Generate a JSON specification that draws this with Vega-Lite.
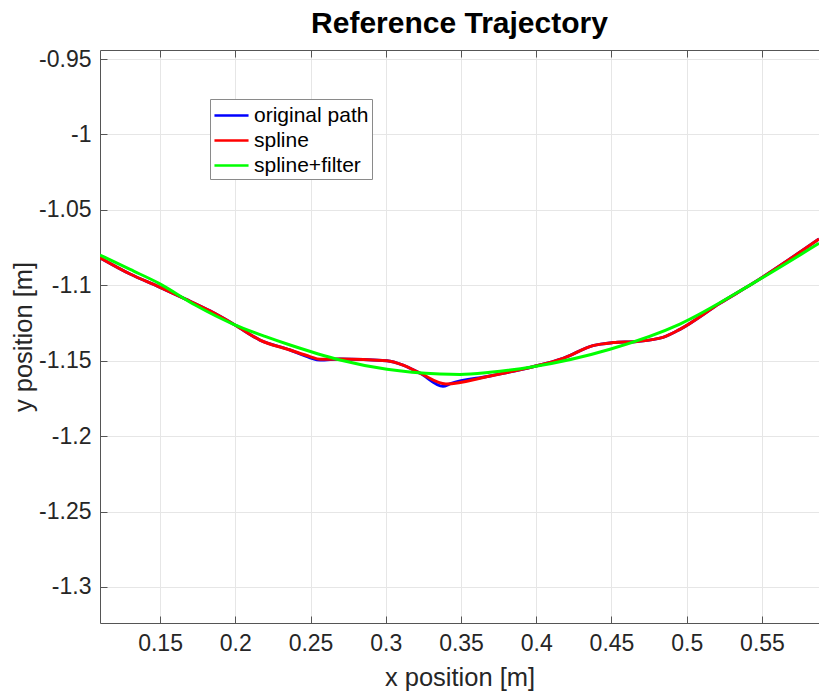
{
  "$schema": "https://vega.github.io/schema/vega-lite/v6.json",
  "autosize": "none",
  "width": 719,
  "height": 573,
  "padding": {"left": 100, "top": 50, "right": 0, "bottom": 70},
  "background": "white",
  "title": {"text": "Reference Trajectory", "fontSize": 30, "fontWeight": "bold", "font": "Liberation Sans", "color": "#000000", "anchor": "middle", "offset": 9},
  "datasets": {
    "paths": [
      {"series": "original path", "x": 0.1101, "y": -1.0817},
      {"series": "original path", "x": 0.1301, "y": -1.0925},
      {"series": "original path", "x": 0.1493, "y": -1.1010},
      {"series": "original path", "x": 0.1666, "y": -1.1090},
      {"series": "original path", "x": 0.1832, "y": -1.1170},
      {"series": "original path", "x": 0.1998, "y": -1.1263},
      {"series": "original path", "x": 0.2164, "y": -1.1363},
      {"series": "original path", "x": 0.2364, "y": -1.1429},
      {"series": "original path", "x": 0.2497, "y": -1.1480},
      {"series": "original path", "x": 0.2563, "y": -1.1496},
      {"series": "original path", "x": 0.2696, "y": -1.1489},
      {"series": "original path", "x": 0.3008, "y": -1.1500},
      {"series": "original path", "x": 0.3115, "y": -1.1529},
      {"series": "original path", "x": 0.3228, "y": -1.1583},
      {"series": "original path", "x": 0.3380, "y": -1.1670},
      {"series": "original path", "x": 0.3430, "y": -1.1652},
      {"series": "original path", "x": 0.3693, "y": -1.1601},
      {"series": "original path", "x": 0.3978, "y": -1.1540},
      {"series": "original path", "x": 0.4178, "y": -1.1484},
      {"series": "original path", "x": 0.4377, "y": -1.1400},
      {"series": "original path", "x": 0.4510, "y": -1.1380},
      {"series": "original path", "x": 0.4669, "y": -1.1372},
      {"series": "original path", "x": 0.4842, "y": -1.1345},
      {"series": "original path", "x": 0.4955, "y": -1.1292},
      {"series": "original path", "x": 0.5221, "y": -1.1119},
      {"series": "original path", "x": 0.5440, "y": -1.0987},
      {"series": "original path", "x": 0.5879, "y": -1.0693},
      {"series": "spline", "x": 0.1101, "y": -1.0817},
      {"series": "spline", "x": 0.1301, "y": -1.0925},
      {"series": "spline", "x": 0.1493, "y": -1.1010},
      {"series": "spline", "x": 0.1666, "y": -1.1090},
      {"series": "spline", "x": 0.1832, "y": -1.1170},
      {"series": "spline", "x": 0.1998, "y": -1.1263},
      {"series": "spline", "x": 0.2164, "y": -1.1363},
      {"series": "spline", "x": 0.2364, "y": -1.1429},
      {"series": "spline", "x": 0.2497, "y": -1.1473},
      {"series": "spline", "x": 0.2563, "y": -1.1491},
      {"series": "spline", "x": 0.2696, "y": -1.1489},
      {"series": "spline", "x": 0.3008, "y": -1.1500},
      {"series": "spline", "x": 0.3115, "y": -1.1529},
      {"series": "spline", "x": 0.3228, "y": -1.1583},
      {"series": "spline", "x": 0.3400, "y": -1.1654},
      {"series": "spline", "x": 0.3693, "y": -1.1601},
      {"series": "spline", "x": 0.3978, "y": -1.1540},
      {"series": "spline", "x": 0.4178, "y": -1.1484},
      {"series": "spline", "x": 0.4377, "y": -1.1400},
      {"series": "spline", "x": 0.4510, "y": -1.1380},
      {"series": "spline", "x": 0.4669, "y": -1.1372},
      {"series": "spline", "x": 0.4842, "y": -1.1345},
      {"series": "spline", "x": 0.4955, "y": -1.1292},
      {"series": "spline", "x": 0.5221, "y": -1.1119},
      {"series": "spline", "x": 0.5440, "y": -1.0987},
      {"series": "spline", "x": 0.5879, "y": -1.0693},
      {"series": "spline+filter", "x": 0.1101, "y": -1.0799},
      {"series": "spline+filter", "x": 0.1301, "y": -1.0895},
      {"series": "spline+filter", "x": 0.1493, "y": -1.0987},
      {"series": "spline+filter", "x": 0.1733, "y": -1.1131},
      {"series": "spline+filter", "x": 0.1985, "y": -1.1257},
      {"series": "spline+filter", "x": 0.2198, "y": -1.1339},
      {"series": "spline+filter", "x": 0.2364, "y": -1.1396},
      {"series": "spline+filter", "x": 0.2696, "y": -1.1495},
      {"series": "spline+filter", "x": 0.3008, "y": -1.1557},
      {"series": "spline+filter", "x": 0.3360, "y": -1.1588},
      {"series": "spline+filter", "x": 0.3493, "y": -1.1591},
      {"series": "spline+filter", "x": 0.3693, "y": -1.1577},
      {"series": "spline+filter", "x": 0.3978, "y": -1.1540},
      {"series": "spline+filter", "x": 0.4490, "y": -1.1424},
      {"series": "spline+filter", "x": 0.4955, "y": -1.1257},
      {"series": "spline+filter", "x": 0.5440, "y": -1.0987},
      {"series": "spline+filter", "x": 0.5879, "y": -1.0722}
    ]
  },
  "data": {"name": "paths"},
  "layer": [
    {
      "mark": {"type": "line", "strokeWidth": 3, "interpolate": "monotone", "clip": true},
      "encoding": {
        "x": {
          "field": "x", "type": "quantitative",
          "scale": {"domain": [0.1101, 0.5879], "nice": false, "zero": false},
          "axis": {
            "title": "x position [m]",
            "values": [0.15, 0.2, 0.25, 0.3, 0.35, 0.4, 0.45, 0.5, 0.55],
            "format": "~g",
            "labelPadding": 16,
            "tickSize": -7,
            "titlePadding": 10
          }
        },
        "y": {
          "field": "y", "type": "quantitative",
          "scale": {"domain": [-1.3239, -0.944], "nice": false, "zero": false},
          "axis": {
            "title": "y position [m]",
            "values": [-0.95, -1, -1.05, -1.1, -1.15, -1.2, -1.25, -1.3],
            "labelExpr": "(datum.value < 0 ? '-' : '') + format(abs(datum.value), '~g')",
            "labelPadding": 16,
            "tickSize": -7,
            "titlePadding": 2
          }
        },
        "color": {
          "field": "series", "type": "nominal",
          "scale": {"domain": ["original path", "spline", "spline+filter"], "range": ["#0000ff", "#ff0000", "#00ff00"]},
          "legend": {
            "title": null,
            "orient": "none",
            "legendX": 110,
            "legendY": 49,
            "symbolType": "M-1.42,0H1.42",
            "symbolSize": 576,
            "symbolStrokeWidth": 2.5,
            "symbolOffset": 5,
            "labelFontSize": 21,
            "labelFont": "Liberation Sans",
            "labelColor": "#000000",
            "fillColor": "white",
            "strokeColor": "#8a8a8a",
            "padding": 3,
            "rowPadding": 1,
            "labelOffset": 9
          }
        }
      }
    },
    {
      "mark": {"type": "line", "opacity": 0},
      "encoding": {
        "x": {
          "field": "x", "type": "quantitative",
          "axis": {
            "orient": "top", "title": null, "labels": false, "grid": false,
            "values": [0.15, 0.2, 0.25, 0.3, 0.35, 0.4, 0.45, 0.5, 0.55],
            "tickSize": -7
          }
        },
        "y": {"field": "y", "type": "quantitative", "axis": null},
        "detail": {"field": "series"}
      }
    }
  ],
  "resolve": {"axis": {"x": "independent", "y": "independent"}},
  "config": {
    "view": {"stroke": null},
    "axis": {
      "labelFont": "Liberation Sans",
      "titleFont": "Liberation Sans",
      "labelFontSize": 23,
      "titleFontSize": 25.5,
      "titleFontWeight": "normal",
      "labelColor": "#262626",
      "titleColor": "#262626",
      "domainColor": "#555555",
      "tickColor": "#555555",
      "domainWidth": 1,
      "tickWidth": 1,
      "gridColor": "#e6e6e6",
      "gridWidth": 1,
      "grid": true,
      "labelBound": false,
      "labelFlush": false,
      "labelOverlap": false
    }
  }
}
